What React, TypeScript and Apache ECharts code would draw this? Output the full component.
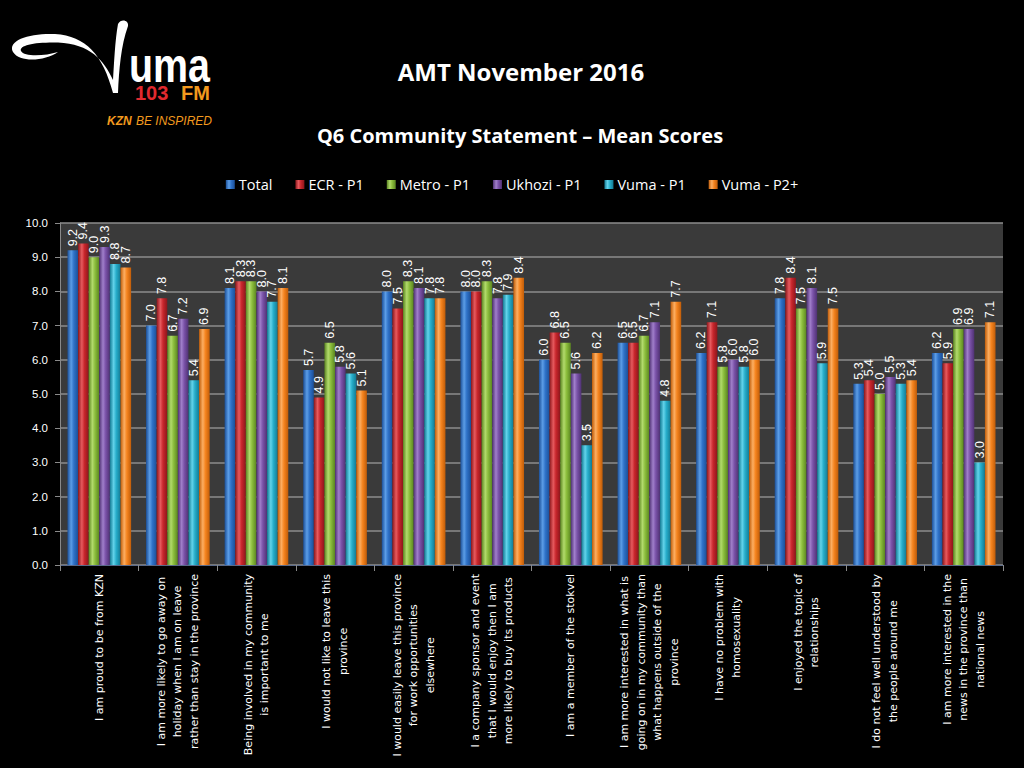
import React, { useEffect, useRef } from "react";
import * as echarts from "echarts";

const categories: string[] = [
  "I am proud to be from KZN",
  "I am more likely to go away on\nholiday when I am on leave\nrather than stay in the province",
  "Being involved in my community\nis important to me",
  "I would not like to leave this\nprovince",
  "I would easily leave this province\nfor work opportunities\nelsewhere",
  "I a company sponsor and event\nthat I would enjoy then I am\nmore likely to buy its products",
  "I am a member of the stokvel",
  "I am more interested in what is\ngoing on in my community than\nwhat happens outside of the\nprovince",
  "I have no problem with\nhomosexuality",
  "I enjoyed the topic of\nrelationships",
  "I do not feel well understood by\nthe people around me",
  "I am more interested in the\nnews in the province than\nnational news",
];

const seriesNames: string[] = ["Total", "ECR - P1", "Metro - P1", "Ukhozi - P1", "Vuma - P1", "Vuma - P2+"];

const total: number[] = [9.2, 7.0, 8.1, 5.7, 8.0, 8.0, 6.0, 6.5, 6.2, 7.8, 5.3, 6.2];
const ecrP1: number[] = [9.4, 7.8, 8.3, 4.9, 7.5, 8.0, 6.8, 6.5, 7.1, 8.4, 5.4, 5.9];
const metroP1: number[] = [9.0, 6.7, 8.3, 6.5, 8.3, 8.3, 6.5, 6.7, 5.8, 7.5, 5.0, 6.9];
const ukhoziP1: number[] = [9.3, 7.2, 8.0, 5.8, 8.1, 7.8, 5.6, 7.1, 6.0, 8.1, 5.5, 6.9];
const vumaP1: number[] = [8.8, 5.4, 7.7, 5.6, 7.8, 7.9, 3.5, 4.8, 5.8, 5.9, 5.3, 3.0];
const vumaP2: number[] = [8.7, 6.9, 8.1, 5.1, 7.8, 8.4, 6.2, 7.7, 6.0, 7.5, 5.4, 7.1];

const seriesData: number[][] = [total, ecrP1, metroP1, ukhoziP1, vumaP1, vumaP2];

const palette = [
  { dark: "#1b4f98", base: "#2f72c8", light: "#5c9de6" },
  { dark: "#8c161b", base: "#c8262c", light: "#e65a5e" },
  { dark: "#5a8520", base: "#8bbd3c", light: "#b2da6c" },
  { dark: "#4f3173", base: "#7a52a8", light: "#a07fca" },
  { dark: "#137a93", base: "#27adca", light: "#63d3ea" },
  { dark: "#c05c08", base: "#f5841f", light: "#fcae62" },
];

const yTicks: number[] = [0, 1, 2, 3, 4, 5, 6, 7, 8, 9, 10];

const swooshPath =
  "M 58 52 C 45 61 20 63 13 52 C 7 40 30 33 55 34 C 86 36 103 55 113 93 L 118 93 C 119 70 121 45 128 26 C 129 20 121 18 118 24 C 115 40 114 65 113 80 C 104 60 90 44 58 42.5 C 35 42 19 45 21 51 C 24 57 45 56 58 52 Z";

let registered = false;

export default function App() {
  const ref = useRef<HTMLDivElement>(null);
  useEffect(() => {
    if (!ref.current) return;
    if (!registered) {
      echarts.graphic.registerShape("logo", echarts.graphic.extendPath(swooshPath, {}));
      registered = true;
    }
    const chart = echarts.init(ref.current, undefined, { renderer: "svg" });
    const grad = (c: { dark: string; base: string; light: string }) =>
      new echarts.graphic.LinearGradient(0, 0, 1, 0, [
        { offset: 0, color: c.dark },
        { offset: 0.35, color: c.light },
        { offset: 0.6, color: c.base },
        { offset: 1, color: c.dark },
      ]);
    const option: any = {
      animation: false,
      backgroundColor: "#000000",
      title: [
        {
          text: "AMT November 2016",
          left: 516,
          top: 54,
          textAlign: "center",
          textStyle: { color: "#ffffff", fontSize: 24, fontWeight: "bold", fontFamily: "Open Sans" },
        },
        {
          text: "Q6 Community Statement \u2013 Mean Scores",
          left: 515,
          top: 120,
          textAlign: "center",
          textStyle: { color: "#ffffff", fontSize: 20, fontWeight: "bold", fontFamily: "Open Sans" },
        },
      ],
      legend: {
        data: seriesNames,
        top: 172,
        left: "center",
        itemWidth: 9,
        itemHeight: 9,
        itemGap: 23,
        icon: "rect",
        textStyle: { color: "#ffffff", fontSize: 14.5, fontFamily: "Open Sans", padding: [0, 0, 0, -1] },
      },
      grid: {
        left: 60,
        right: 21,
        top: 223,
        bottom: 203,
        show: true,
        backgroundColor: "#3a3a3a",
        borderWidth: 0,
        containLabel: false,
        outerBoundsMode: "none",
      },
      xAxis: {
        type: "category",
        data: categories,
        axisLine: { show: true, lineStyle: { color: "#5a6a8a", width: 1 } },
        axisTick: { show: true, length: 6, lineStyle: { color: "#8a8a8a" }, alignWithLabel: false },
        axisLabel: {
          interval: 0,
          rotate: 90,
          margin: 9,
          color: "#ffffff",
          fontSize: 11,
          lineHeight: 16.5,
          fontFamily: "DejaVu Sans",
          formatter: (v: string) =>
            v
              .split("\n")
              .map((l) => "{c|" + l + "}")
              .join("\n"),
          rich: {
            c: { align: "center", color: "#ffffff", fontSize: 11, lineHeight: 16.5, fontFamily: "DejaVu Sans" },
          },
        },
      },
      yAxis: {
        type: "value",
        min: 0,
        max: 10,
        interval: 1,
        axisLine: { show: true, lineStyle: { color: "#8a8a8a" } },
        axisTick: { show: true, length: 5, lineStyle: { color: "#8a8a8a" } },
        splitLine: { show: true, lineStyle: { color: "#8c8c8c", width: 1.5 } },
        axisLabel: {
          color: "#ffffff",
          fontSize: 11.5,
          fontFamily: "Liberation Sans",
          margin: 12,
          formatter: (v: number) => (yTicks.includes(v) ? v.toFixed(1) : ""),
        },
      },
      series: seriesNames.map((name, i) => ({
        name,
        type: "bar",
        data: seriesData[i],
        barGap: "0%",
        barCategoryGap: "19%",
        itemStyle: { color: grad(palette[i]) },
        label: {
          show: true,
          position: "top",
          rotate: 90,
          align: "left",
          verticalAlign: "middle",
          distance: 4,
          color: "#ffffff",
          fontSize: 12.5,
          fontFamily: "Liberation Sans",
          formatter: (p: any) => Number(p.value).toFixed(1),
        },
      })),
      graphic: [
        { type: "logo", x: 0, y: 0, scaleX: 1, scaleY: 1, style: { fill: "#ffffff" } },
        {
          type: "text",
          x: 129,
          y: 50,
          scaleX: 0.82,
          style: {
            text: "uma",
            fill: "#ffffff",
            font: 'bold 48px "Liberation Sans"',
            lineHeight: 30,
            verticalAlign: "top",
            textVerticalAlign: "top",
          },
        },
        {
          type: "text",
          x: 135,
          y: 84,
          style: {
            text: "103",
            fill: "#e02a2f",
            font: 'bold 20px "Liberation Sans"',
            lineHeight: 18,
            verticalAlign: "top",
            textVerticalAlign: "top",
          },
        },
        {
          type: "text",
          x: 181,
          y: 84,
          style: {
            text: "FM",
            fill: "#f39a1e",
            font: 'bold 20px "Liberation Sans"',
            lineHeight: 18,
            verticalAlign: "top",
            textVerticalAlign: "top",
          },
        },
        {
          type: "text",
          x: 107,
          y: 127,
          style: { text: "KZN", fill: "#f39a1e", font: 'italic bold 12px "Liberation Sans"', textVerticalAlign: "bottom", verticalAlign: "bottom" },
        },
        {
          type: "text",
          x: 136,
          y: 127,
          style: { text: "BE INSPIRED", fill: "#f39a1e", font: 'italic 12px "Liberation Sans"', textVerticalAlign: "bottom", verticalAlign: "bottom" },
        },
      ],
    };
    chart.setOption(option);
    return () => chart.dispose();
  }, []);
  return (
    <div
      ref={ref}
      style={{ position: "fixed", left: 0, top: 0, width: 1024, height: 768, background: "#000" }}
    />
  );
}
